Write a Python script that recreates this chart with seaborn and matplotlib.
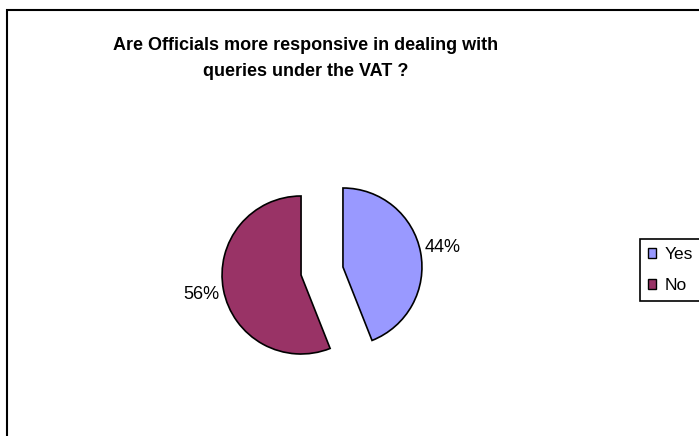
import matplotlib
matplotlib.use("Agg")
import matplotlib.pyplot as plt
import seaborn as sns
from matplotlib.patches import Patch, Rectangle

# Survey answers and their shares (percent)
answers = ["Yes", "No"]
shares = [44, 56]
colors = ["#9999FF", "#993366"]
title = "Are Officials more responsive in dealing with\nqueries under the VAT ?"

sns.set_theme(style="white")
plt.rcParams["font.family"] = ["Liberation Sans", "DejaVu Sans"]
plt.rcParams["text.color"] = "black"

W, H = 699, 436
fig = plt.figure(figsize=(W / 100, H / 100), dpi=100)
fig.patch.set_facecolor("white")

# Axes spanning the whole figure; one data unit equals the pie radius
R = 79          # pie radius in pixels
cx, cy = 322, 271  # pie centre in pixels (from top-left)
ax = fig.add_axes([0, 0, 1, 1])
wedges, texts, autotexts = ax.pie(
    shares,
    colors=colors,
    startangle=90,
    counterclock=False,
    explode=[0.27, 0.27],
    autopct="%1.0f%%",
    pctdistance=1.29,
    wedgeprops=dict(edgecolor="black", linewidth=1.2),
    textprops=dict(fontsize=13, color="black"),
)
ax.set_xlim(-cx / R, (W - cx) / R)
ax.set_ylim(-(H - cy) / R, cy / R)
ax.set_aspect("equal")
ax.axis("off")

fig.text(305.5 / W, 1 - 58.5 / H, title, ha="center", va="center",
         fontsize=13, fontweight="bold", linespacing=1.75, color="black")

handles = [Patch(facecolor=c, edgecolor="black", linewidth=1.0) for c in colors]
leg = fig.legend(
    handles, answers,
    loc="upper left",
    bbox_to_anchor=(640 / W, 1 - 239 / H),
    frameon=True, fancybox=False, edgecolor="black",
    fontsize=12.5, handlelength=0.5, handleheight=0.5,
    handletextpad=0.45, borderpad=0.45, labelspacing=0.95,
    borderaxespad=0, labelcolor="black",
)
leg.get_frame().set_linewidth(1.2)
leg.get_frame().set_alpha(None)

# Chart-area border
fig.add_artist(Rectangle((7 / W, -0.1), 1.2, 1.1 - 10 / H,
                         transform=fig.transFigure, fill=False,
                         edgecolor="black", linewidth=1.5))

fig.savefig("out.png", dpi=100)
